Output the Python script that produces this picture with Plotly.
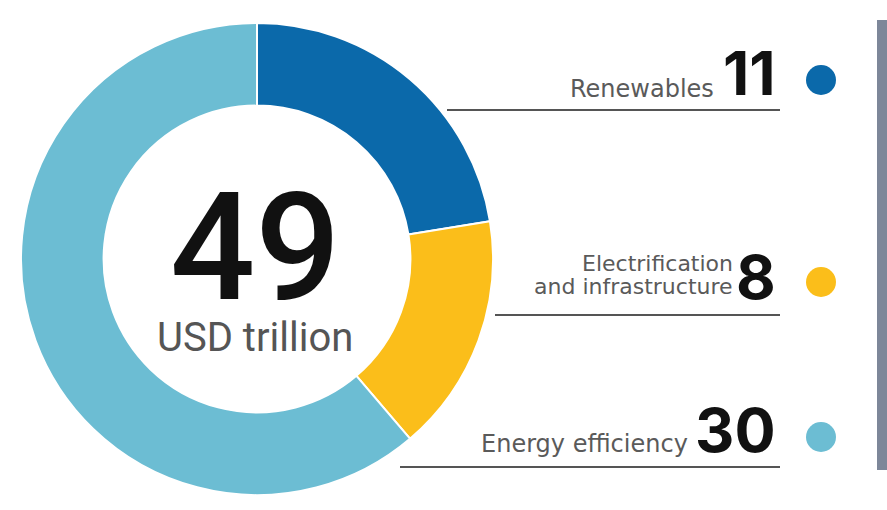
import plotly.graph_objects as go

W, H = 887, 510

# ---- data ----
categories = ["Renewables", "Electrification and infrastructure", "Energy efficiency"]
label_lines = [["Renewables"], ["Electrification", "and infrastructure"], ["Energy efficiency"]]
values = [11, 8, 30]
colors = ["#0b69aa", "#fbbe1a", "#6cbdd3"]
total_label = "49"
unit_label = "USD trillion"

def px(x):
    return x / W

def py(y):
    return 1 - y / H

fig = go.Figure()
fig.add_trace(go.Pie(
    labels=categories, values=values, sort=False, direction="clockwise", rotation=0,
    hole=0.65, textinfo="none", hoverinfo="label+value", showlegend=False,
    marker=dict(colors=colors, line=dict(color="white", width=2)),
    domain=dict(x=[px(21), px(493)], y=[py(495), py(23)]),
))

annotations = []
shapes = []

# center text (one annotation, two lines)
center_text = (f"<span style='font-size:150px;color:#111111;font-weight:500'>{total_label}</span>"
               f"<br>{unit_label}")
annotations.append(dict(x=px(255), y=py(260), xref="paper", yref="paper", text=center_text,
                        showarrow=False, xanchor="center", yanchor="middle", align="center",
                        font=dict(family="Roboto", size=40, color="#555555")))

# right side legend rows (layout positions)
num_x_right = 778
label_x_right = [716, 735, 690]
num_cy = [73, 277, 430]
label_cy = [[89], [263, 286], [444]]
label_sizes = [24, 22, 24]
line_y = [110, 315, 467]
line_x0 = [447, 495, 400]
dot_cy = [80, 282, 437]
dot_cx = 821
dot_r = 15

for i in range(len(values)):
    annotations.append(dict(x=px(num_x_right), y=py(num_cy[i]), xref="paper", yref="paper",
                            text=str(values[i]), showarrow=False, xanchor="right", yanchor="middle",
                            font=dict(family="Inter", size=61, color="#111111", weight=700)))
    for line_text, cy in zip(label_lines[i], label_cy[i]):
        annotations.append(dict(x=px(label_x_right[i]), y=py(cy), xref="paper", yref="paper",
                                text=line_text, showarrow=False, xanchor="right", yanchor="middle",
                                font=dict(family="DejaVu Sans", size=label_sizes[i], color="#5a5a5a")))
    shapes.append(dict(type="line", xref="paper", yref="paper",
                       x0=px(line_x0[i]), x1=px(780), y0=py(line_y[i]), y1=py(line_y[i]),
                       line=dict(color="#555555", width=2)))
    shapes.append(dict(type="circle", xref="paper", yref="paper",
                       x0=px(dot_cx - dot_r), x1=px(dot_cx + dot_r),
                       y0=py(dot_cy[i] + dot_r), y1=py(dot_cy[i] - dot_r),
                       fillcolor=colors[i], line=dict(width=0)))

# vertical bar on the right edge
shapes.append(dict(type="rect", xref="paper", yref="paper",
                   x0=px(877), x1=px(887), y0=py(470), y1=py(20),
                   fillcolor="#7d8799", line=dict(width=0)))

fig.update_layout(width=W, height=H, margin=dict(l=0, r=0, t=0, b=0),
                  paper_bgcolor="white", plot_bgcolor="white",
                  annotations=annotations, shapes=shapes)

fig.write_html("out.html", config={"displayModeBar": False},
               post_script="document.body.style.margin='0';")
